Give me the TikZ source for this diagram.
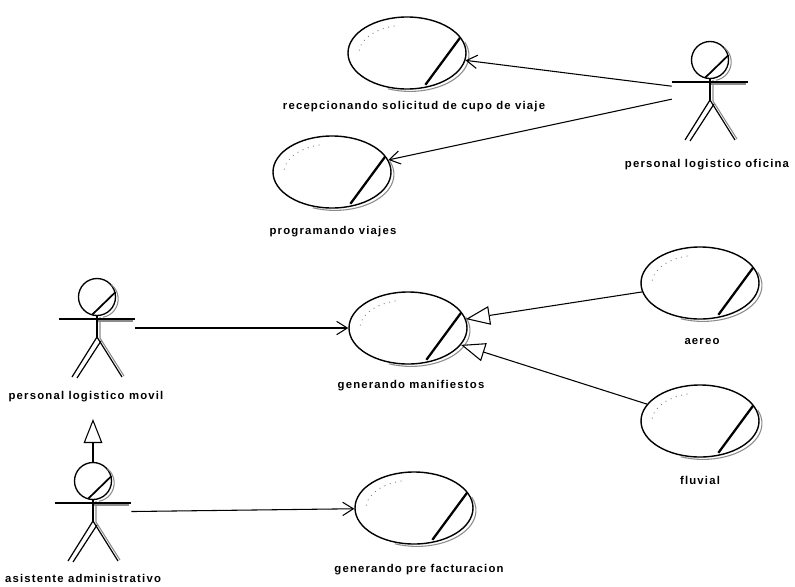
\documentclass[tikz,border=0pt]{standalone}
\usepackage{fontspec}
\newfontfamily\lblfont{Liberation Sans}[LetterSpace=10.5]
\usetikzlibrary{shapes.geometric,arrows.meta,calc}

\tikzset{
  ink/.style={line width=0.9pt},
  usecase/.style={ellipse, draw, line width=1.05pt, minimum width=88.5pt, minimum height=54pt, inner sep=0pt},
  ucslash/.style={line width=1.7pt},
  ghost/.style={draw=black!45, line width=0.8pt},
  speck/.style={draw=black!55, line width=0.6pt, dash pattern=on 0.7pt off 3.5pt},
  headball/.style={circle, draw, line width=1pt, minimum size=27.75pt, inner sep=0pt},
  actorbox/.style={rectangle, minimum width=57pt, minimum height=73.5pt, inner sep=0pt},
  caption/.style={font=\lblfont\bfseries\fontsize{8.5}{10}\selectfont, inner sep=0pt},
  assoc/.style={line width=0.8pt, -{Straight Barb[length=8pt, width=10pt, line width=0.8pt]}},
  generalize/.style={line width=0.8pt, -{Triangle[open, length=18pt, width=14pt, line width=0.8pt, fill=white]}},
}

% business use case: slash on the right and a grey shadow along the lower rim
\newcommand{\ucmark}[1]{%
  \draw[ucslash] ($(#1.center)!0.92!(#1.-60)$) -- ($(#1.center)!0.98!(#1.16)$);
  \draw[ghost] ($(#1.center)+({44.25pt*cos(22)+2.2pt},{27pt*sin(22)-1.8pt})$)
     arc[start angle=22, end angle=-112, x radius=44.25pt, y radius=27pt];
  \draw[speck] ($(#1.center)+({36pt*cos(175)},{21pt*sin(175)})$)
     arc[start angle=175, end angle=105, x radius=36pt, y radius=21pt];
}

% business worker: stick figure around the head centre (#2,#3)
\newcommand{\actorfig}[3]{%
  \node[headball] (#1-head) at (#2,#3) {};
  \node[actorbox] (#1) at (#2,#3+31) {};
  \draw[ucslash, line width=1.3pt] ($(#1-head.center)!0.95!(#1-head.-105)$) -- (#1-head.15);
  \draw[ghost] ($(#1-head.center)+({13.9pt*cos(50)+2pt},{13.9pt*sin(50)-1.5pt})$)
     arc[start angle=50, end angle=-80, radius=13.9pt];
  \draw[ghost] (#2+3,#3+20) -- (#2+3,#3+41) -- (#2+27,#3+79);
  \draw[ghost] (#2+1,#3+24) -- (#2+36,#3+24);
  \draw[ink] (#1-head.south) -- (#2,#3+40);
  \draw[ink] (#2-38,#3+22) -- (#2+38,#3+22);
  \draw[ink] (#2-25,#3+80) -- (#2,#3+40) -- (#2+25,#3+80);
  \draw[ink] (#2+4,#3+44) -- (#2-20,#3+81);
}

\begin{document}
\begin{tikzpicture}[x=0.75pt, y=-0.75pt]
  \fill[white] (0,0) rectangle (795,586);
  \useasboundingbox (0,0) rectangle (795,586);

  % use cases
  \node[usecase] (recep) at (407,53) {};
  \ucmark{recep}
  \node[caption] (recep-t) at (414,107) {recepcionando solicitud de cupo de viaje};

  \node[usecase] (prog) at (332,172) {};
  \ucmark{prog}
  \node[caption] (prog-t) at (333,232) {programando viajes};

  \node[usecase] (manif) at (408,328) {};
  \ucmark{manif}
  \node[caption] (manif-t) at (411,386) {generando manifiestos};

  \node[usecase] (aereo) at (700,283) {};
  \ucmark{aereo}
  \node[caption] (aereo-t) at (702,341) {aereo};

  \node[usecase] (fluvial) at (700,421) {};
  \ucmark{fluvial}
  \node[caption] (fluvial-t) at (700,480) {fluvial};

  \node[usecase] (prefact) at (414,508) {};
  \ucmark{prefact}
  \node[caption] (prefact-t) at (419,570) {generando pre facturacion};

  % actors
  \actorfig{oficina}{710}{60}
  \node[caption] (oficina-t) at (707,165) {personal logistico oficina};

  \actorfig{movil}{97}{297}
  \node[caption] (movil-t) at (86,397) {personal logistico movil};
  \coordinate (movil-foot) at (93,419);

  \actorfig{asist}{93}{481}
  \node[caption] (asist-t) at (83,578) {asistente administrativo};

  % associations
  \draw[assoc] (oficina) -- (recep);
  \draw[assoc] (oficina) -- (prog);
  \draw[assoc] (movil) -- (manif);
  \draw[assoc] (asist) -- (prefact);

  % generalizations
  \draw[generalize] (aereo) -- (manif);
  \draw[generalize] (fluvial) -- (manif);
  \draw[generalize] (asist-head) -- (movil-foot);
\end{tikzpicture}
\end{document}
